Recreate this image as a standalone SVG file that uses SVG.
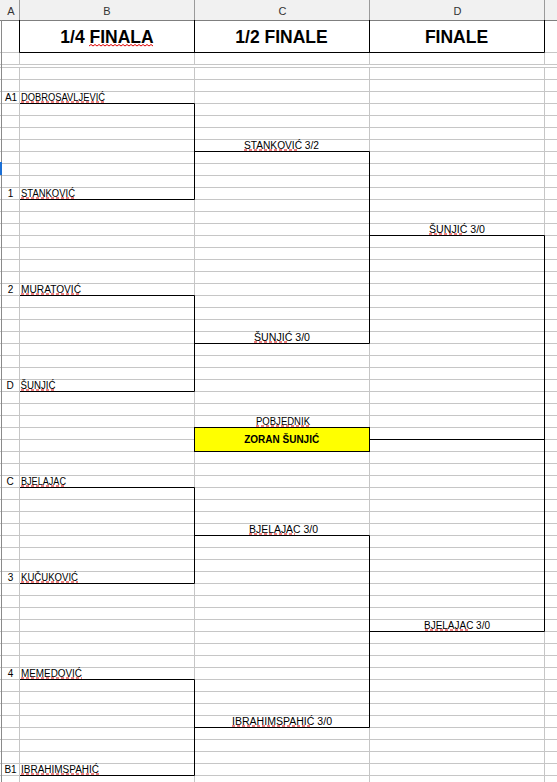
<svg xmlns="http://www.w3.org/2000/svg" width="557" height="782" viewBox="0 0 557 782">
<style>
.grid{stroke:#c6c6c6;stroke-width:1;fill:none}
.br{stroke:#000;stroke-width:1;fill:none}
.t{font-family:"Liberation Sans",Arial,sans-serif;font-size:10px;fill:#000}
.m{text-anchor:middle}
.hd{font-family:"Liberation Sans",Arial,sans-serif;font-size:11px;fill:#333;text-anchor:middle}
.title{font-family:"Liberation Sans",Arial,sans-serif;font-size:17.5px;font-weight:bold;fill:#000;text-anchor:middle}
.sp{stroke:#e00000;stroke-width:1;stroke-dasharray:3 2;fill:none}
</style>
<rect x="0" y="0" width="557" height="782" fill="#fff"/>
<g id="sheet-grid">
<rect x="0" y="0" width="557" height="20" fill="#f1f1f1"/>
<path d="M19.5 0V20M194.5 0V20M369.5 0V20M544.5 0V20" stroke="#9a9a9a" stroke-width="1"/>
<path d="M0 20.5H557" stroke="#7f7f7f" stroke-width="1"/>
<text class="hd" x="11" y="15">A</text>
<text class="hd" x="107" y="15">B</text>
<text class="hd" x="282.5" y="15">C</text>
<text class="hd" x="457.5" y="15">D</text>
<path class="grid" d="M19.5 21V64M194.5 52V64M369.5 52V64M544.5 21V64M19.5 67V782M194.5 67V782M369.5 67V782M544.5 67V782"/>
<path class="grid" d="M0 52.5H20M544 52.5H557M0 64.5H557M0 67.5H557M0 79.5H557M0 91.5H557M0 103.5H557M0 115.5H557M0 127.5H557M0 139.5H557M0 151.5H557M0 163.5H557M0 175.5H557M0 187.5H557M0 199.5H557M0 211.5H557M0 223.5H557M0 235.5H557M0 247.5H557M0 259.5H557M0 271.5H557M0 283.5H557M0 295.5H557M0 307.5H557M0 319.5H557M0 331.5H557M0 343.5H557M0 355.5H557M0 367.5H557M0 379.5H557M0 391.5H557M0 403.5H557M0 415.5H557M0 427.5H557M0 439.5H557M0 451.5H557M0 463.5H557M0 475.5H557M0 487.5H557M0 499.5H557M0 511.5H557M0 523.5H557M0 535.5H557M0 547.5H557M0 559.5H557M0 571.5H557M0 583.5H557M0 595.5H557M0 607.5H557M0 619.5H557M0 631.5H557M0 643.5H557M0 655.5H557M0 667.5H557M0 679.5H557M0 691.5H557M0 703.5H557M0 715.5H557M0 727.5H557M0 739.5H557M0 751.5H557M0 763.5H557M0 775.5H557"/>
<path d="M1.5 20V782" stroke="#8a8a8a" stroke-width="1"/>
<rect x="0" y="162" width="2" height="13" fill="#1a6fd6"/>
</g>
<g id="titles">
<path class="br" d="M19.5 20V52.5H544.5V20M194.5 20V52.5M369.5 20V52.5"/>
<text class="title" x="107" y="43">1/4 FINALA</text>
<text class="title" x="281.5" y="43">1/2 FINALE</text>
<text class="title" x="456.5" y="43">FINALE</text>
<polyline points="89,46 91,44.5 93,46 95,44.5 97,46 99,44.5 101,46 103,44.5 105,46 107,44.5 109,46 111,44.5 113,46 115,44.5 117,46 119,44.5 121,46 123,44.5 125,46 127,44.5 129,46 131,44.5 133,46 135,44.5 137,46 139,44.5 141,46 143,44.5 145,46 147,44.5 149,46 151,44.5 153,46" fill="none" stroke="#e00000" stroke-width="1"/>
</g>
<g id="connectors">
<path class="br" d="M20 103.5H194.5V199.5H20M194.5 151.5H369.5V343.5H194.5M20 295.5H194.5V391.5H20M369.5 235.5H544.5V631.5H369.5M20 487.5H194.5V583.5H20M194.5 535.5H369.5V727.5H194.5M20 679.5H194.5V775.5H20M369.5 439.5H544.5"/>
</g>
<g id="seeds">
<text class="t m" x="11" y="100.5">A1</text>
<text class="t m" x="10.5" y="196.5">1</text>
<text class="t m" x="10.5" y="292.5">2</text>
<text class="t m" x="10" y="388.5">D</text>
<text class="t m" x="10" y="484.5">C</text>
<text class="t m" x="10.5" y="580.5">3</text>
<text class="t m" x="10.5" y="676.5">4</text>
<text class="t m" x="10.5" y="772.5">B1</text>
</g>
<g id="qf-dobrosavljevic"><text class="t" x="21" y="100.5" textLength="84" lengthAdjust="spacingAndGlyphs">DOBROSAVLJEVIĆ</text><path class="sp" d="M21 102H105"/></g>
<g id="qf-stankovic"><text class="t" x="21" y="196.5" textLength="54" lengthAdjust="spacingAndGlyphs">STANKOVIĆ</text><path class="sp" d="M21 198H75"/></g>
<g id="qf-muratovic"><text class="t" x="21" y="292.5" textLength="60" lengthAdjust="spacingAndGlyphs">MURATOVIĆ</text><path class="sp" d="M21 294H81"/></g>
<g id="qf-sunjic"><text class="t" x="20.5" y="388.5" textLength="35" lengthAdjust="spacingAndGlyphs">ŠUNJIĆ</text><path class="sp" d="M21 390H55"/></g>
<g id="qf-bjelajac"><text class="t" x="21" y="484.5" textLength="45" lengthAdjust="spacingAndGlyphs">BJELAJAC</text><path class="sp" d="M21 486H66"/></g>
<g id="qf-kucukovic"><text class="t" x="21" y="580.5" textLength="57" lengthAdjust="spacingAndGlyphs">KUČUKOVIĆ</text><path class="sp" d="M21 582H78"/></g>
<g id="qf-memedovic"><text class="t" x="21" y="676.5" textLength="61" lengthAdjust="spacingAndGlyphs">MEMEDOVIĆ</text><path class="sp" d="M21 678H82"/></g>
<g id="qf-ibrahimspahic"><text class="t" x="21" y="772.5" textLength="78" lengthAdjust="spacingAndGlyphs">IBRAHIMSPAHIĆ</text><path class="sp" d="M21 774H99"/></g>
<g id="sf-stankovic"><text class="t m" x="281.5" y="148.5" textLength="75" lengthAdjust="spacingAndGlyphs">STANKOVIĆ 3/2</text><path class="sp" d="M244 150H297"/></g>
<g id="sf-sunjic"><text class="t m" x="282" y="340.5" textLength="56" lengthAdjust="spacingAndGlyphs">ŠUNJIĆ 3/0</text><path class="sp" d="M254 342H289"/></g>
<g id="sf-bjelajac"><text class="t m" x="283.5" y="532.5" textLength="69" lengthAdjust="spacingAndGlyphs">BJELAJAC 3/0</text><path class="sp" d="M249 534H295"/></g>
<g id="sf-ibrahimspahic"><text class="t m" x="282" y="724.5" textLength="100" lengthAdjust="spacingAndGlyphs">IBRAHIMSPAHIĆ 3/0</text><path class="sp" d="M232 726H310"/></g>
<g id="f-sunjic"><text class="t m" x="457" y="232.5" textLength="56" lengthAdjust="spacingAndGlyphs">ŠUNJIĆ 3/0</text><path class="sp" d="M429 234H464"/></g>
<g id="f-bjelajac"><text class="t m" x="457" y="628.5" textLength="66" lengthAdjust="spacingAndGlyphs">BJELAJAC 3/0</text><path class="sp" d="M425 630H470"/></g>
<g id="winner">
<text class="t m" x="283" y="424.5" textLength="54" lengthAdjust="spacingAndGlyphs">POBJEDNIK</text>
<path class="sp" d="M256 426H310"/>
<rect x="194.5" y="427.5" width="175" height="24" fill="#ffff00" stroke="#000" stroke-width="1"/>
<text class="t m" x="281.7" y="442.5" font-weight="bold" textLength="75" lengthAdjust="spacingAndGlyphs">ZORAN ŠUNJIĆ</text>
</g>
</svg>
